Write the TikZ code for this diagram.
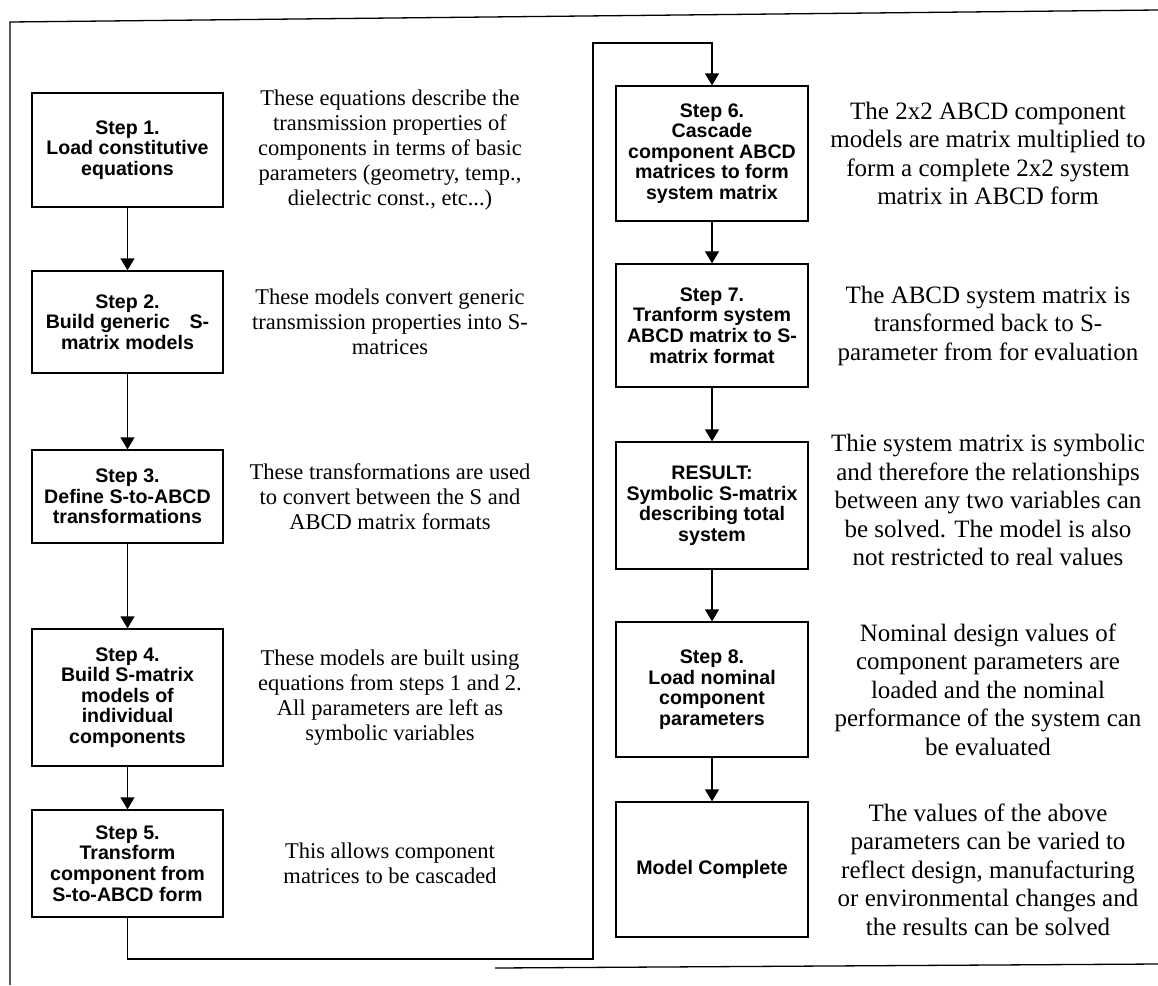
\documentclass[tikz,border=0pt]{standalone}
\usepackage{fontspec}
\setmainfont{Liberation Serif}
\newfontfamily\boxfont{Liberation Sans}
\usetikzlibrary{arrows.meta}
\begin{document}
\begin{tikzpicture}[x=1pt,y=-1pt,
  stepbox/.style={draw, line width=1.3pt, minimum width=191pt, align=center,
    font=\boxfont\bfseries\fontsize{19.6}{20.6}\selectfont, inner sep=0pt},
  descl/.style={align=center, font=\fontsize{22.5}{25}\selectfont},
  descr/.style={align=center, font=\fontsize{25}{28.5}\selectfont},
  wire/.style={line width=1.3pt},
  flow/.style={wire, -{Triangle[width=14pt,length=12pt]}}]
\useasboundingbox (0,0) rectangle (1158,985);

% outer frame
\coordinate (f1) at (1158,10);
\coordinate (f2) at (10,22);
\coordinate (f3) at (10,985);
\coordinate (b1) at (495,968);
\coordinate (b2) at (1158,964);
\draw[wire] (f1) -- (f2) -- (f3);
\draw[wire] (b1) -- (b2);

% left column
\node[stepbox, minimum height=114pt] (s1) at (127.5,150) {Step 1.\\Load constitutive\\equations};
\node[stepbox, minimum height=102pt] (s2) at (127.5,322) {Step 2.\\Build generic\quad S-\\matrix models};
\node[stepbox, minimum height=93pt] (s3) at (127.5,496.5) {Step 3.\\Define S-to-ABCD\\transformations};
\node[stepbox, minimum height=137pt] (s4) at (127.5,697.5) {Step 4.\\Build S-matrix\\models of\\individual\\components};
\node[stepbox, minimum height=107pt] (s5) at (127.5,863.5) {Step 5.\\Transform\\component from\\S-to-ABCD form};

% right column
\node[stepbox, minimum width=192pt, minimum height=135pt] (s6) at (712,153.5) {Step 6.\\Cascade\\component ABCD\\matrices to form\\system matrix};
\node[stepbox, minimum width=192pt, minimum height=123pt] (s7) at (712,325.5) {Step 7.\\Tranform system\\ABCD matrix to S-\\matrix format};
\node[stepbox, minimum width=192pt, minimum height=127pt] (res) at (712,505.5) {RESULT:\\Symbolic S-matrix\\describing total\\system};
\node[stepbox, minimum width=192pt, minimum height=135pt] (s8) at (712,689.5) {Step 8.\\Load nominal\\component\\parameters};
\node[stepbox, minimum width=192pt, minimum height=135pt] (mc) at (712,869.5) {Model Complete};

% descriptions, left
\node[descl] (d1) at (390,150) {These equations describe the\\transmission properties of\\components in terms of basic\\parameters (geometry, temp.,\\dielectric const., etc...)};
\node[descl] (d2) at (390,322) {These models convert generic\\transmission properties into S-\\matrices};
\node[descl] (d3) at (390,496.5) {These transformations are used\\to convert between the S and\\ABCD matrix formats};
\node[descl] (d4) at (390,697.5) {These models are built using\\equations from steps 1 and 2.\\All parameters are left as\\symbolic variables};
\node[descl] (d5) at (390,863.5) {This allows component\\matrices to be cascaded};

% descriptions, right
\node[descr] (d6) at (988,153.5) {The 2x2 ABCD component\\models are matrix multiplied to\\form a complete 2x2 system\\matrix in ABCD form};
\node[descr] (d7) at (988,325.5) {The ABCD system matrix is\\transformed back to S-\\parameter from for evaluation};
\node[descr] (d8) at (988,500) {Thie system matrix is symbolic\\and therefore the relationships\\between any two variables can\\be solved. The model is also\\not restricted to real values};
\node[descr] (d9) at (988,689.5) {Nominal design values of\\component parameters are\\loaded and the nominal\\performance of the system can\\be evaluated};
\node[descr] (d10) at (988,869.5) {The values of the above\\parameters can be varied to\\reflect design, manufacturing\\or environmental changes and\\the results can be solved};

% flow arrows
\draw[flow] (s1) -- (s2);
\draw[flow] (s2) -- (s3);
\draw[flow] (s3) -- (s4);
\draw[flow] (s4) -- (s5);
\coordinate (c1) at (127.5,959);
\coordinate (c2) at (593,959);
\coordinate (c3) at (593,43);
\coordinate (c4) at (712,43);
\draw[flow] (s5.south) -- (c1) -- (c2) -- (c3) -- (c4) -- (s6.north);
\draw[flow] (s6) -- (s7);
\draw[flow] (s7) -- (res);
\draw[flow] (res) -- (s8);
\draw[flow] (s8) -- (mc);
\end{tikzpicture}
\end{document}
